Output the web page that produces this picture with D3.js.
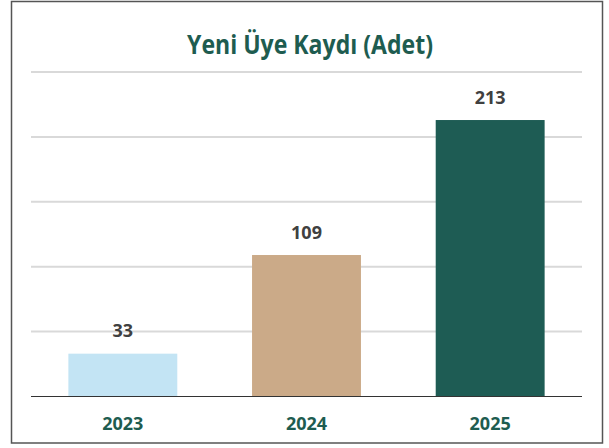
<!DOCTYPE html>
<html>
<head>
<meta charset="utf-8">
<script src="https://cdn.jsdelivr.net/npm/d3@7/dist/d3.min.js"></script>
<style>
  html, body { margin: 0; padding: 0; background: #fff; }
  svg { display: block; }
</style>
</head>
<body>
<div id="chart"></div>
<script>
// data
var years = ["2023", "2024", "2025"];
var registrations = [33, 109, 213];
var barColors = ["#c3e4f4", "#cbaa88", "#1e5c54"];
var gridTicks = [0, 50, 100, 150, 200, 250];

var W = 609, H = 448;
var plot = { left: 31, right: 582, top: 72, bottom: 396.5 };

var svg = d3.select("#chart")
    .append("svg")
    .attr("width", W)
    .attr("height", H);

// outer frame
svg.append("rect")
    .attr("x", 11.5).attr("y", 1.5)
    .attr("width", 591).attr("height", 441.5)
    .attr("fill", "#fff")
    .attr("stroke", "#555")
    .attr("stroke-width", 1.5);

var x = d3.scaleBand()
    .domain(years)
    .range([plot.left, plot.right])
    .paddingInner(0.407)
    .paddingOuter(0.2035);

var y = d3.scaleLinear()
    .domain([0, 250])
    .range([plot.bottom, plot.top]);

// gridlines
svg.append("g")
    .selectAll("line")
    .data(gridTicks.slice(1))
    .enter()
    .append("line")
    .attr("x1", plot.left).attr("x2", plot.right)
    .attr("y1", d => y(d)).attr("y2", d => y(d))
    .attr("stroke", "#d9d9d9")
    .attr("stroke-width", 2);

// bars
svg.append("g")
    .selectAll("rect")
    .data(registrations)
    .enter()
    .append("rect")
    .attr("x", (d, i) => x(years[i]))
    .attr("width", x.bandwidth())
    .attr("y", d => y(d))
    .attr("height", d => plot.bottom - y(d))
    .attr("fill", (d, i) => barColors[i]);

// baseline
svg.append("line")
    .attr("x1", plot.left).attr("x2", plot.right)
    .attr("y1", plot.bottom).attr("y2", plot.bottom)
    .attr("stroke", "#333")
    .attr("stroke-width", 1.2);

// value labels
svg.append("g")
    .selectAll("text")
    .data(registrations)
    .enter()
    .append("text")
    .attr("x", (d, i) => x(years[i]) + x.bandwidth() / 2)
    .attr("y", d => y(d) - 16.5)
    .attr("text-anchor", "middle")
    .style("font-family", "'Open Sans', sans-serif")
    .style("font-weight", "bold")
    .style("font-size", "18px")
    .attr("fill", "#404040")
    .text(d => d);

// x axis labels
svg.append("g")
    .selectAll("text")
    .data(years)
    .enter()
    .append("text")
    .attr("x", d => x(d) + x.bandwidth() / 2)
    .attr("y", 430)
    .attr("text-anchor", "middle")
    .style("font-family", "'Open Sans', sans-serif")
    .style("font-weight", "bold")
    .style("font-size", "18px")
    .attr("fill", "#1e5c50")
    .text(d => d);

// title
svg.append("text")
    .attr("x", 310)
    .attr("y", 54)
    .attr("text-anchor", "middle")
    .attr("textLength", 246)
    .attr("lengthAdjust", "spacingAndGlyphs")
    .style("font-family", "'Open Sans', sans-serif")
    .style("font-weight", "bold")
    .style("font-size", "27px")
    .attr("fill", "#1e5c50")
    .text("Yeni Üye Kaydı (Adet)");
</script>
</body>
</html>
